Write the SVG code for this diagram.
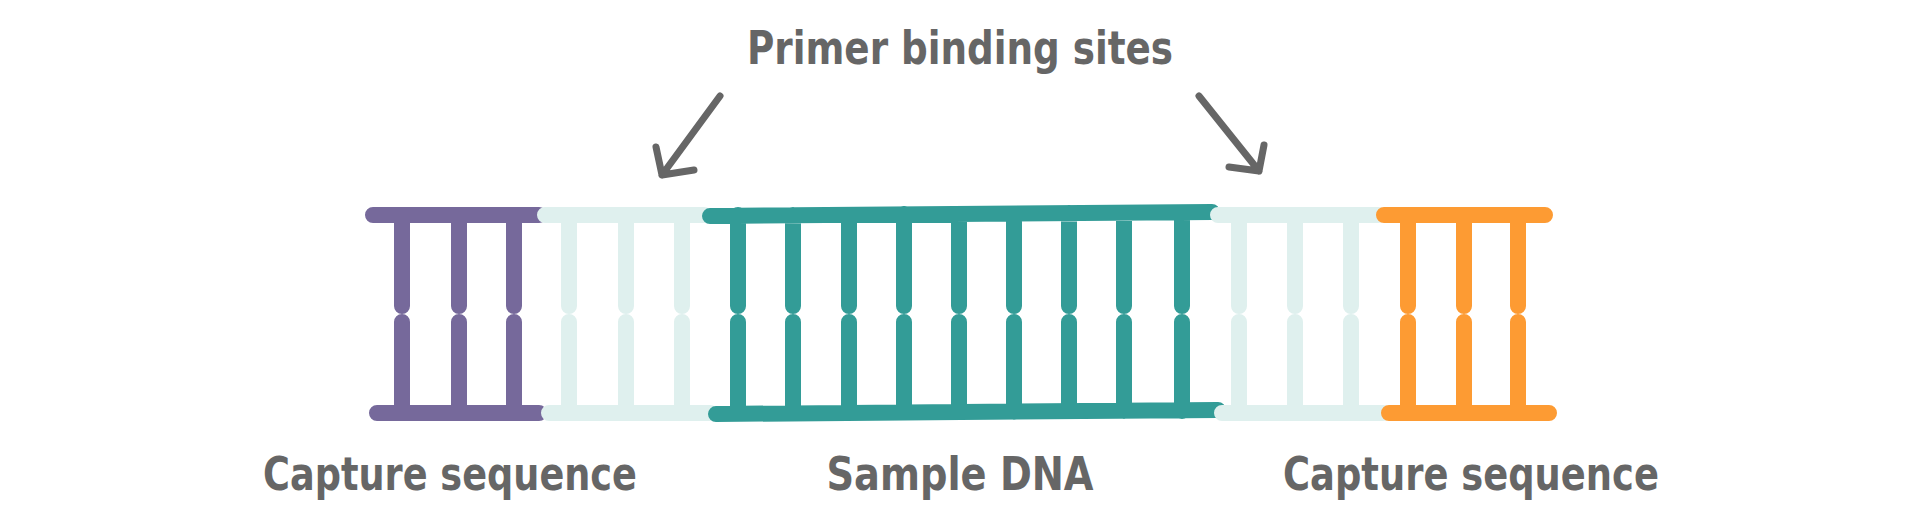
<svg xmlns="http://www.w3.org/2000/svg" width="1920" height="520" viewBox="0 0 1920 520">
<style>
.b{stroke-width:16;stroke-linecap:round;fill:none}
.p{stroke:#76699b}.l{stroke:#dff0ee}.t{stroke:#339c97}.o{stroke:#fd9b33}
.a{stroke:#666;stroke-width:7;stroke-linecap:round;stroke-linejoin:round;fill:none}
text{font-family:"DejaVu Sans Condensed","DejaVu Sans",sans-serif;font-weight:bold;fill:#666;font-size:46px}
</style>
<rect width="1920" height="520" fill="#fff"/>
<g id="capture-left">
<path class="b p" d="M373 215H539M377 413H539M402 215V306M459 215V306M514 215V306M402 322V413M459 322V413M514 322V413"/>
</g>
<g id="primer-left">
<path class="b l" d="M545 215H704M549 413H710M569 215V306M626 215V306M682 215V306M569 322V413M626 322V413M682 322V413"/>
</g>
<g id="sample">
<path class="b t" d="M710 216L1212 212M716 414L1218 410M738 215V306M793 215V306M849 215V306M904 214V306M959 214V306M1014 214V306M1069 213V306M1124 213V306M1182 213V306M738 322V413M793 322V413M849 322V413M904 322V412M959 322V412M1014 322V412M1069 322V411M1124 322V411M1182 322V411"/>
</g>
<g id="primer-right">
<path class="b l" d="M1218 215H1378M1222 413H1383M1239 215V306M1295 215V306M1351 215V306M1239 322V413M1295 322V413M1351 322V413"/>
</g>
<g id="capture-right">
<path class="b o" d="M1384 215H1545M1389 413H1549M1408 215V306M1464 215V306M1518 215V306M1408 322V413M1464 322V413M1518 322V413"/>
</g>
<g id="connectors">
<path class="a" d="M720 96L662 175M656 147L662 175L694 170"/>
<path class="a" d="M1199 96L1259 171M1264 145L1259 171L1229 167"/>
</g>
<text x="960" y="64" text-anchor="middle" textLength="426" lengthAdjust="spacingAndGlyphs">Primer binding sites</text>
<text x="450" y="490" text-anchor="middle" textLength="374" lengthAdjust="spacingAndGlyphs">Capture sequence</text>
<text x="960" y="490" text-anchor="middle" textLength="267" lengthAdjust="spacingAndGlyphs">Sample DNA</text>
<text x="1471" y="490" text-anchor="middle" textLength="376" lengthAdjust="spacingAndGlyphs">Capture sequence</text>
</svg>
